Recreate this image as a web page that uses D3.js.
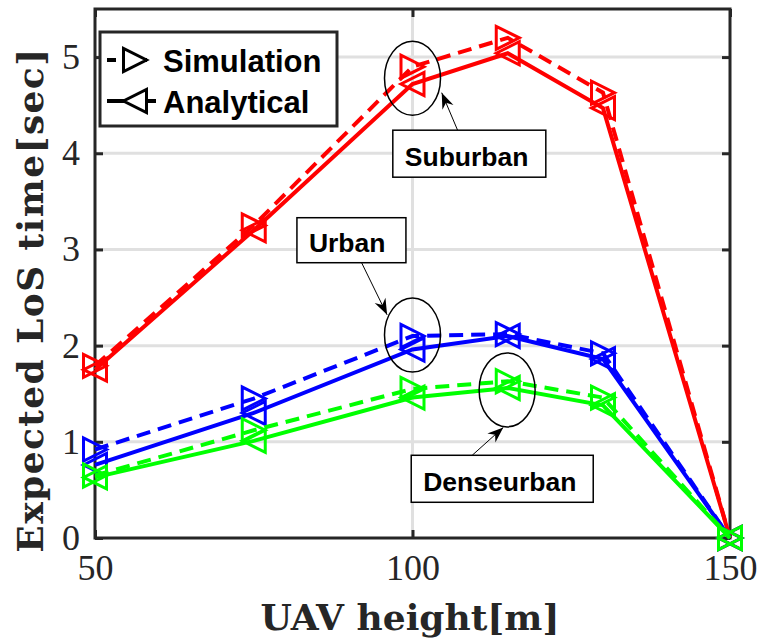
<!DOCTYPE html>
<html>
<head>
<meta charset="utf-8">
<script src="https://cdn.jsdelivr.net/npm/d3@7"></script>
<style>
	body { margin: 0; background: #fff; }
	svg { display: block; }
</style>
</head>
<body>
<script>
// data
const heights = [50, 75, 100, 115, 130, 150]
const suburbanSim = [1.79, 3.25, 4.9, 5.2, 4.63, 0]
const suburbanAna = [1.75, 3.2, 4.72, 5.04, 4.47, 0]
const urbanSim = [0.92, 1.45, 2.1, 2.12, 1.92, 0]
const urbanAna = [0.76, 1.3, 1.96, 2.1, 1.86, 0]
const denseSim = [0.65, 1.12, 1.55, 1.63, 1.46, 0]
const denseAna = [0.63, 1.01, 1.46, 1.56, 1.38, 0]
const xTicks = [50, 100, 150]
const yTicks = [0, 1, 2, 3, 4, 5]

const series = [
	{ values: suburbanSim, color: '#ff0000', type: 'sim' },
	{ values: suburbanAna, color: '#ff0000', type: 'ana' },
	{ values: urbanSim, color: '#0000ff', type: 'sim' },
	{ values: urbanAna, color: '#0000ff', type: 'ana' },
	{ values: denseSim, color: '#00ff00', type: 'sim' },
	{ values: denseAna, color: '#00ff00', type: 'ana' }
]

// annotations: ellipse centre, box corner and arrow ends in data units
const notes = [
	{ label: 'Suburban', cx: 100, cy: 4.78, bx: 96.9, by: 4.24, bw: 153, bh: 47, ax1: 107.1, ay1: 4.24, ax2: 104.6, ay2: 4.63 },
	{ label: 'Urban', cx: 100, cy: 2.11, bx: 81.8, by: 3.33, bw: 109, bh: 45, ax1: 92.0, ay1: 2.86, ax2: 96.0, ay2: 2.32 },
	{ label: 'Denseurban', cx: 114.9, cy: 1.54, bx: 99.8, by: 0.86, bw: 182, bh: 47, ax1: 109.4, ay1: 0.86, ax2: 114.3, ay2: 1.15 }
]

const margin = { top: 9, bottom: 101, left: 95, right: 30 }
const width = 760 - margin.left - margin.right
const height = 639 - margin.top - margin.bottom

const svg = d3.select('body').append('svg').attr('width', 760).attr('height', 639)
const g = svg.append('g').attr('transform', `translate(${margin.left},${margin.top})`)

const x = d3.scaleLinear().domain([50, 150]).range([0, width])
const y = d3.scaleLinear().domain([0, 5.5]).range([height, 0])

// grid
g.append('g')
	.selectAll('line')
	.data(yTicks.filter(d => d > 0))
	.join('line')
	.attr('x1', 0).attr('x2', width)
	.attr('y1', d => y(d)).attr('y2', d => y(d))
	.attr('stroke', '#e0e0e0').attr('stroke-width', 3)
g.append('g')
	.selectAll('line')
	.data(xTicks.slice(1, -1))
	.join('line')
	.attr('x1', d => x(d)).attr('x2', d => x(d))
	.attr('y1', 0).attr('y2', height)
	.attr('stroke', '#e0e0e0').attr('stroke-width', 3)

// axes (inward ticks, box)
const axisStyle = sel => {
	sel.select('.domain').remove()
	sel.selectAll('line').attr('stroke', '#262626').attr('stroke-width', 3)
	sel.selectAll('text').attr('fill', '#262626')
		.style('font-family', '"Liberation Serif", serif').style('font-size', '36px')
}
g.append('g').attr('transform', `translate(0,${height})`)
	.call(d3.axisBottom(x).tickValues(xTicks).tickSize(-8).tickPadding(16).tickFormat(d3.format('d')))
	.call(axisStyle)
g.append('g')
	.call(d3.axisTop(x).tickValues(xTicks).tickSize(-8).tickFormat(''))
	.call(axisStyle)
g.append('g')
	.call(d3.axisLeft(y).tickValues(yTicks).tickSize(-8).tickPadding(15).tickFormat(d3.format('d')))
	.call(axisStyle)
g.append('g').attr('transform', `translate(${width},0)`)
	.call(d3.axisRight(y).tickValues(yTicks).tickSize(-8).tickFormat(''))
	.call(axisStyle)
g.append('rect')
	.attr('width', width).attr('height', height)
	.attr('fill', 'none').attr('stroke', '#262626').attr('stroke-width', 3)

// axis titles
svg.append('text')
	.attr('x', 410).attr('y', 630)
	.attr('text-anchor', 'middle')
	.style('font-family', '"DejaVu Serif", serif').style('font-weight', 'bold').style('font-size', '36px')
	.attr('fill', '#262626')
	.text('UAV height[m]')
svg.append('text')
	.attr('transform', 'translate(43,300) rotate(-90)')
	.attr('text-anchor', 'middle')
	.style('font-family', '"DejaVu Serif", serif').style('font-weight', 'bold').style('font-size', '36px')
	.style('letter-spacing', '1.4px')
	.attr('fill', '#262626')
	.text('Expected LoS time[sec]')

// triangle markers
const s = 11.5
const triRight = `M${-s},${-s}L${-s},${s}L${s},0Z`
const triLeft = `M${s},${-s}L${s},${s}L${-s},0Z`

const line = d3.line().x((d, i) => x(heights[i])).y(d => y(d))

series.forEach(sr => {
	g.append('path')
		.datum(sr.values)
		.attr('d', line)
		.attr('fill', 'none')
		.attr('stroke', sr.color)
		.attr('stroke-width', 4)
		.attr('stroke-dasharray', sr.type === 'sim' ? '14,8' : null)
	g.append('g')
		.selectAll('path')
		.data(sr.values)
		.join('path')
		.attr('transform', (d, i) => `translate(${x(heights[i])},${y(d)})`)
		.attr('d', sr.type === 'sim' ? triRight : triLeft)
		.attr('fill', 'none')
		.attr('stroke', sr.color)
		.attr('stroke-width', 3)
})

// annotations
const arrowHead = (x1, y1, x2, y2) => {
	const a = Math.atan2(y2 - y1, x2 - x1)
	const L = 16, W = 6, B = 11
	const p = (l, w) => [x2 - l * Math.cos(a) - w * Math.sin(a), y2 - l * Math.sin(a) + w * Math.cos(a)]
	return 'M' + [[x2, y2], p(L, W), p(B, 0), p(L, -W)].map(q => q.join(',')).join('L') + 'Z'
}
notes.forEach(n => {
	g.append('ellipse')
		.attr('cx', x(n.cx)).attr('cy', y(n.cy))
		.attr('rx', 28).attr('ry', 37)
		.attr('fill', 'none').attr('stroke', '#000').attr('stroke-width', 1.5)
	g.append('line')
		.attr('x1', x(n.ax1)).attr('y1', y(n.ay1))
		.attr('x2', x(n.ax2)).attr('y2', y(n.ay2))
		.attr('stroke', '#000').attr('stroke-width', 1)
	g.append('path')
		.attr('d', arrowHead(x(n.ax1), y(n.ay1), x(n.ax2), y(n.ay2)))
		.attr('fill', '#000')
	g.append('rect')
		.attr('x', x(n.bx)).attr('y', y(n.by))
		.attr('width', n.bw).attr('height', n.bh)
		.attr('fill', '#fff').attr('stroke', '#000').attr('stroke-width', 1.5)
	g.append('text')
		.attr('x', x(n.bx) + 12).attr('y', y(n.by) + n.bh - 11)
		.style('font-family', '"Liberation Sans", Arial, sans-serif').style('font-weight', 'bold').style('font-size', '26.5px')
		.text(n.label)
})

// legend
const legend = svg.append('g')
legend.append('rect')
	.attr('x', 100).attr('y', 32).attr('width', 237).attr('height', 94)
	.attr('fill', '#fff').attr('stroke', '#262626').attr('stroke-width', 3)
const legendItems = [
	{ label: 'Simulation', type: 'sim', cy: 60 },
	{ label: 'Analytical', type: 'ana', cy: 101 }
]
legendItems.forEach(it => {
	legend.append('line')
		.attr('x1', 107).attr('x2', 156).attr('y1', it.cy).attr('y2', it.cy)
		.attr('stroke', '#000').attr('stroke-width', 4)
		.attr('stroke-dasharray', it.type === 'sim' ? '9,6,25,20' : null)
	legend.append('path')
		.attr('transform', `translate(135,${it.cy})`)
		.attr('d', it.type === 'sim' ? triRight : triLeft)
		.attr('fill', '#fff').attr('stroke', '#000').attr('stroke-width', 3)
	legend.append('text')
		.attr('x', 163).attr('y', it.cy + 12)
		.style('font-family', '"Liberation Sans", Arial, sans-serif').style('font-weight', 'bold').style('font-size', '31px')
		.text(it.label)
})
</script>
</body>
</html>
